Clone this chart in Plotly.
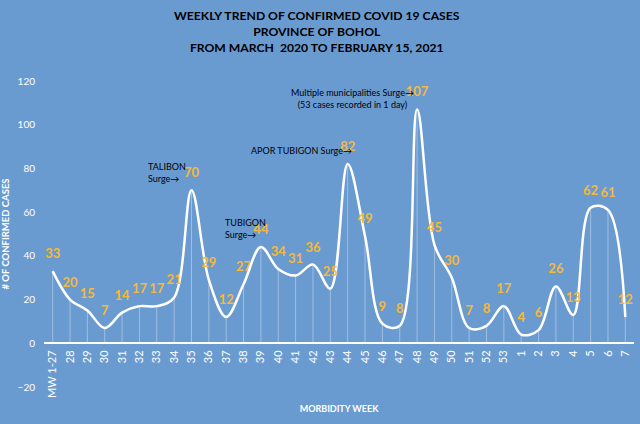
import plotly.graph_objects as go

# Morbidity weeks (2020: MW 1-27 grouped, then 28-53; 2021: 1-7)
weeks = ["MW 1-27", "28", "29", "30", "31", "32", "33", "34", "35", "36",
         "37", "38", "39", "40", "41", "42", "43", "44", "45", "46", "47",
         "48", "49", "50", "51", "52", "53", "1", "2", "3", "4", "5", "6", "7"]
cases = [33, 20, 15, 7, 14, 17, 17, 21, 70, 29,
         12, 27, 44, 34, 31, 36, 25, 82, 49, 9, 8,
         107, 45, 30, 7, 8, 17, 4, 6, 26, 13, 62, 61, 12]

# surge notes: (week, text)
notes = [
    ("35", "TALIBON<br>Surge→"),
    ("39", "TUBIGON<br>Surge→"),
    ("44", "APOR TUBIGON Surge→"),
    ("48", "Multiple municipalities Surge→<br>(53 cases recorded in 1 day)"),
]

title_txt = ("WEEKLY TREND OF CONFIRMED COVID 19 CASES<br>PROVINCE OF BOHOL<br>"
             "FROM MARCH  2020 TO FEBRUARY 15, 2021")

bg = "#6A9BD0"
gold = "#F4B93A"
font_fam = "Lato"

fig = go.Figure()

# thin drop lines from each point down to zero
fig.add_trace(go.Scatter(
    x=weeks, y=cases, mode="markers",
    marker=dict(size=1, color="rgba(0,0,0,0)"),
    error_y=dict(type="data", symmetric=False, array=[0] * len(cases),
                 arrayminus=cases, width=0, thickness=0.8,
                 color="rgba(255,255,255,0.45)"),
    hoverinfo="skip", showlegend=False,
))

# smoothed line
fig.add_trace(go.Scatter(
    x=weeks, y=cases, mode="lines",
    line=dict(color="white", width=2.5, shape="spline", smoothing=1.0),
    showlegend=False,
))

# data labels
fig.add_trace(go.Scatter(
    x=weeks, y=cases, mode="markers+text",
    marker=dict(size=14, color="rgba(0,0,0,0)"),
    text=[str(v) for v in cases], textposition="top center",
    textfont=dict(family=font_fam, size=13, color=gold, weight="bold"),
    cliponaxis=False, showlegend=False,
))

shifts = {"35": (-4, 4.5, "left"), "39": (7, 5, "left"),
          "44": (6, 6, "left"), "48": (-1, -3, "center")}
for wk, txt in notes:
    xs, ys, al = shifts[wk]
    i = weeks.index(wk)
    fig.add_annotation(
        x=i, y=cases[i], text=txt, showarrow=False,
        xanchor="right", yanchor="bottom", xshift=xs, yshift=ys, align=al,
        font=dict(family=font_fam, size=9, color="black"),
    )

# chart title
fig.add_annotation(
    x=0.463, xref="paper", y=1.2465, yref="paper", xanchor="center", yanchor="top",
    text=title_txt, showarrow=False, align="center",
    font=dict(family=font_fam, size=12.2, color="black", weight="bold"),
)

fig.update_layout(
    width=640, height=424,
    paper_bgcolor=bg, plot_bgcolor=bg,
    margin=dict(l=44, r=6, t=81, b=37, autoexpand=False),
    xaxis=dict(
        type="category", range=[-0.5, len(weeks) - 0.5], automargin=False,
        anchor="free", position=20 / 140,
        showgrid=False, showline=False, zeroline=False, ticks="",
        tickangle=-90, ticklabelstandoff=4,
        tickfont=dict(family=font_fam, size=11, color="white"),
        title=dict(text="MORBIDITY WEEK", standoff=8,
                   font=dict(family=font_fam, size=9, color="white", weight="bold")),
    ),
    yaxis=dict(
        range=[-20, 120], dtick=20, showgrid=False, automargin=False,
        zeroline=True, zerolinecolor="white", zerolinewidth=1.5,
        showline=False, ticks="", ticklabelstandoff=8,
        tickfont=dict(family=font_fam, size=10, color="white"),
        title=dict(text="# OF CONFIRMED CASES", standoff=6,
                   font=dict(family=font_fam, size=9.5, color="white", weight="bold")),
    ),
)

# page body has a default 8px margin; drop it so the figure sits at 0,0
fig.write_html("out.html", config={"displayModeBar": False},
               post_script="document.body.style.margin='0';")
